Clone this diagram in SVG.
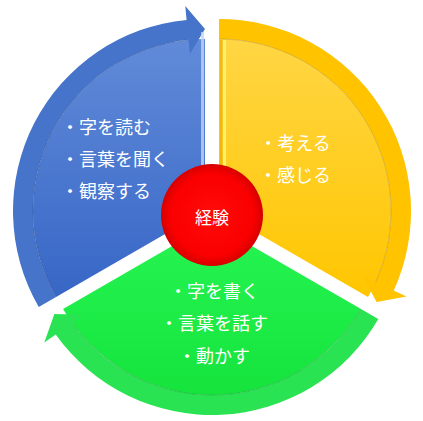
<svg xmlns="http://www.w3.org/2000/svg" width="423" height="421" viewBox="0 0 423 421">
  <defs>
    <linearGradient id="gBlue" x1="0" y1="0" x2="0" y2="1">
      <stop offset="0" stop-color="#618BD9"/>
      <stop offset="1" stop-color="#3766C6"/>
    </linearGradient>
    <linearGradient id="gYellow" x1="0" y1="0" x2="0" y2="1">
      <stop offset="0" stop-color="#FFD644"/>
      <stop offset="1" stop-color="#FFC600"/>
    </linearGradient>
    <linearGradient id="gGreen" x1="0" y1="0" x2="0" y2="1">
      <stop offset="0" stop-color="#26F452"/>
      <stop offset="1" stop-color="#16E43D"/>
    </linearGradient>
    <radialGradient id="gRed" cx="0.5" cy="0.5" r="0.5">
      <stop offset="0" stop-color="#FF0A0A"/>
      <stop offset="0.8" stop-color="#FA0000"/>
      <stop offset="0.92" stop-color="#E60000"/>
      <stop offset="1" stop-color="#D40000"/>
    </radialGradient>
  </defs>
  <style>
    .lbl { font-family: "Noto Sans CJK JP", "Noto Sans CJK SC", sans-serif; font-size: 18px; fill: #FFFFFF; dominant-baseline: central; }
    .ctr { font-family: "Noto Sans CJK JP", "Noto Sans CJK SC", sans-serif; font-size: 17px; fill: #FFFFFF; dominant-baseline: central; text-anchor: middle; }
    .edge { fill: none; stroke: #000000; stroke-opacity: 0.18; stroke-width: 0.8; }
  </style>

  <g id="seg-blue">
    <path d="M205,211 L56.04,297 A172,172 0 0 1 205,39 Z" fill="url(#gBlue)"/>
    <path d="M38.72,307 A192,192 0 0 1 186.6,19.88 L185.26,5.95 L205,29 L189.86,53.73 L188.52,39.79 A172,172 0 0 0 56.04,297 Z" fill="#4574CA"/>
    <path class="edge" d="M56.04,297 A172,172 0 0 1 188.52,39.79"/>
    <line x1="202.5" y1="32" x2="202.5" y2="205" stroke="#BFD4F5" stroke-width="3" stroke-opacity="0.8"/>
    <text class="lbl" x="61" y="126">・字を読む</text>
    <text class="lbl" x="61" y="158">・言葉を聞く</text>
    <text class="lbl" x="61" y="190">・観察する</text>
  </g>

  <g id="seg-yellow">
    <path d="M219,211 L219,39 A172,172 0 0 1 367.96,297 Z" fill="url(#gYellow)"/>
    <path d="M219,19 A192,192 0 0 1 393.72,290.62 L406.46,296.43 L376.61,302 L362.78,276.52 L375.52,282.33 A172,172 0 0 0 219,39 Z" fill="#FFC300"/>
    <path class="edge" d="M219,39 A172,172 0 0 1 375.52,282.33"/>
    <line x1="221" y1="40" x2="221" y2="205" stroke="#E6A800" stroke-width="3" stroke-opacity="0.6"/>
    <line x1="224.5" y1="40" x2="224.5" y2="205" stroke="#FFF266" stroke-width="3"/>
    <text class="lbl" x="295" y="142" text-anchor="middle">・考える</text>
    <text class="lbl" x="295" y="174" text-anchor="middle">・感じる</text>
  </g>

  <g id="seg-green">
    <path d="M212,223 L360.96,309 A172,172 0 0 1 63.04,309 Z" fill="url(#gGreen)"/>
    <path d="M378.28,319 A192,192 0 0 1 55.69,334.49 L44.3,342.62 L54.39,314 L83.37,314.75 L71.97,322.88 A172,172 0 0 0 360.96,309 Z" fill="#2AE352"/>
    <path class="edge" d="M360.96,309 A172,172 0 0 1 71.97,322.88"/>
    <text class="lbl" x="214" y="290" text-anchor="middle">・字を書く</text>
    <text class="lbl" x="214" y="322" text-anchor="middle">・言葉を話す</text>
    <text class="lbl" x="214" y="355" text-anchor="middle">・動かす</text>
  </g>

  <g id="center">
    <circle cx="212" cy="215" r="51" fill="url(#gRed)"/>
    <text class="ctr" x="212" y="216">経験</text>
  </g>
</svg>
